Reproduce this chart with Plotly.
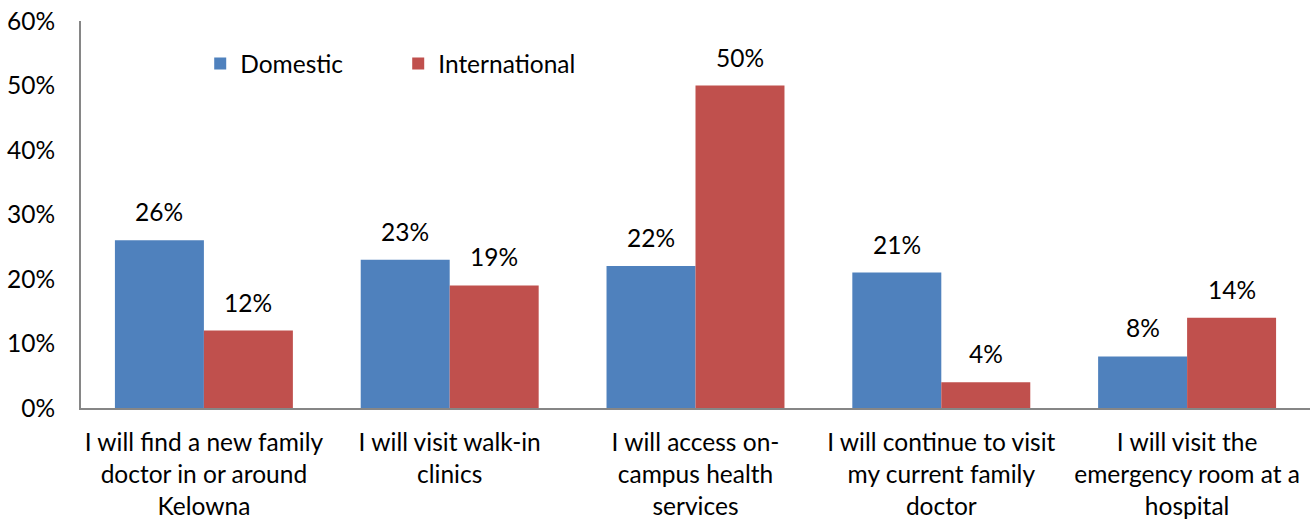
import plotly.graph_objects as go

categories = [
    "I will find a new family<br>doctor in or around<br>Kelowna",
    "I will visit walk-in<br>clinics",
    "I will access on-<br>campus health<br>services",
    "I will continue to visit<br>my current family<br>doctor",
    "I will visit the<br>emergency room at a<br>hospital",
]
domestic = [26, 23, 22, 21, 8]
international = [12, 19, 50, 4, 14]
y_ticks = [0, 10, 20, 30, 40, 50, 60]
y_tick_labels = [f"{v}%" for v in y_ticks]

FONT = "Lato"
SIZE = 24.5
BLUE = "#4F81BD"
RED = "#C0504D"

fig = go.Figure()
fig.add_trace(go.Bar(name="Domestic", x=categories, y=domestic, marker_color=BLUE,
                     marker_line_width=0))
fig.add_trace(go.Bar(name="International", x=categories, y=international, marker_color=RED,
                     marker_line_width=0))

# value labels above each bar
annotations = []
for series, offset in ((domestic, -0.181), (international, 0.181)):
    for i, v in enumerate(series):
        annotations.append(dict(
            x=i + offset, y=v, xref="x", yref="y", text=f"{v}%",
            showarrow=False, yanchor="bottom", yshift=12,
            font=dict(family=FONT, size=SIZE, color="#000000"),
        ))

fig.update_layout(
    width=1315, height=519,
    margin=dict(l=81, r=5, t=21, b=111),
    paper_bgcolor="white", plot_bgcolor="white",
    barmode="group", bargap=0.276, bargroupgap=0,
    font=dict(family=FONT, size=SIZE, color="#000000"),
    showlegend=True,
    legend=dict(orientation="h", x=0.097, y=0.89, xanchor="left", yanchor="middle",
                font=dict(family=FONT, size=SIZE), entrywidth=153, entrywidthmode="pixels",
                bgcolor="rgba(0,0,0,0)", itemsizing="constant"),
    annotations=annotations,
)
fig.update_xaxes(
    type="category", range=[-0.5, 4.5], automargin=False,
    showline=True, linecolor="#868686", linewidth=2,
    showgrid=False, ticks="", ticklabelstandoff=12,
    tickfont=dict(family=FONT, size=SIZE),
)
fig.update_yaxes(
    range=[0, 60], tickvals=y_ticks, ticktext=y_tick_labels, automargin=False,
    showline=True, linecolor="#868686", linewidth=2,
    showgrid=False, zeroline=False, ticks="", ticklabelstandoff=19,
    tickfont=dict(family=FONT, size=SIZE),
)

fig.write_html("out.html")
